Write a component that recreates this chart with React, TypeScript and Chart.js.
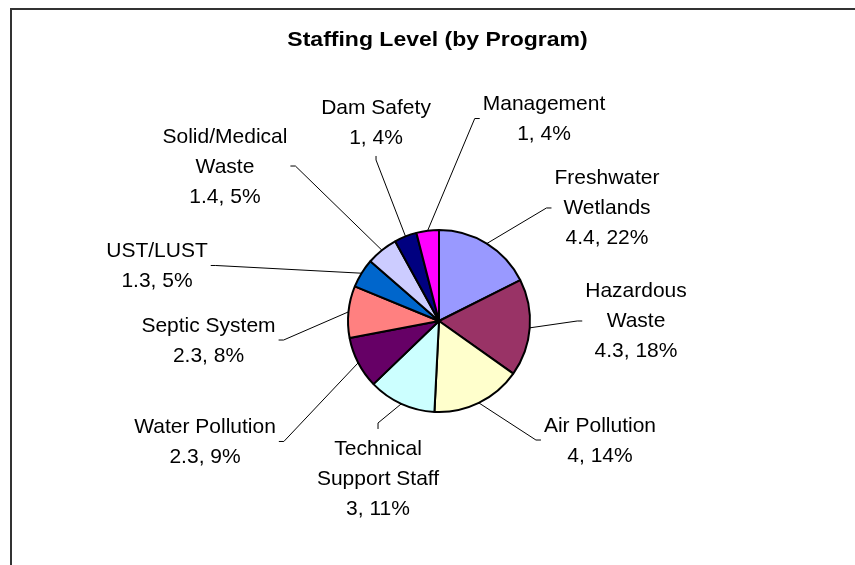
import React, { useEffect, useRef } from 'react';
import { Chart, registerables } from 'chart.js';

Chart.register(...registerables);

// ---------- data ----------
const chartTitle = 'Staffing Level (by Program)';
const categories = [
  'Freshwater Wetlands',
  'Hazardous Waste',
  'Air Pollution',
  'Technical Support Staff',
  'Water Pollution',
  'Septic System',
  'UST/LUST',
  'Solid/Medical Waste',
  'Dam Safety',
  'Management',
];
const staffValues = [4.4, 4.3, 4, 3, 2.3, 2.3, 1.3, 1.4, 1, 1];
const percentLabels = [22, 18, 14, 11, 9, 8, 5, 5, 4, 4];

// ---------- styles / layout ----------
const sliceColors = [
  '#9999FF', '#993366', '#FFFFCC', '#CCFFFF', '#660066',
  '#FF8080', '#0066CC', '#CCCCFF', '#000080', '#FF00FF',
];
// label block centres, in units of the pie radius, relative to the pie centre
const labelOffsets: [number, number][] = [
  [1.846, -1.253],
  [2.165, -0.011],
  [1.769, 1.297],
  [-0.67, 1.725],
  [-2.571, 1.313],
  [-2.533, 0.198],
  [-3.099, -0.621],
  [-2.352, -1.714],
  [-0.692, -2.187],
  [1.154, -2.236],
];
// which edge of the label block the leader line attaches to
const labelSides = ['left', 'left', 'left', 'top', 'right', 'right', 'right', 'right', 'bottom', 'left'];

const LABEL_FONT = '21px "Liberation Sans", Arial, sans-serif';
const TITLE_FONT = 'bold 20px "Liberation Sans", Arial, sans-serif';
const LINE_H = 30;
const WRAP_W = 150;

function wrapText(ctx: CanvasRenderingContext2D, text: string, maxW: number): string[] {
  const words = text.split(' ');
  const out: string[] = [];
  let cur = '';
  for (const w of words) {
    const t = cur ? cur + ' ' + w : w;
    if (cur && ctx.measureText(t).width > maxW) {
      out.push(cur);
      cur = w;
    } else {
      cur = t;
    }
  }
  if (cur) out.push(cur);
  return out;
}

const excelPlugin = {
  id: 'excelPieDecor',
  beforeDraw(chart: any) {
    const ctx: CanvasRenderingContext2D = chart.ctx;
    ctx.save();
    // outer frame
    ctx.strokeStyle = '#333333';
    ctx.lineWidth = 2;
    ctx.strokeRect(11, 9, 853, 570);
    // title
    ctx.fillStyle = '#000';
    ctx.font = TITLE_FONT;
    ctx.textAlign = 'center';
    ctx.textBaseline = 'alphabetic';
    ctx.translate(11 + 853 / 2, 46);
    ctx.scale(1.15, 1);
    ctx.fillText(chartTitle, 0, 0);
    ctx.restore();
  },
  afterDatasetsDraw(chart: any) {
    const ctx: CanvasRenderingContext2D = chart.ctx;
    const meta = chart.getDatasetMeta(0);
    ctx.save();
    ctx.font = LABEL_FONT;
    ctx.fillStyle = '#000';
    ctx.strokeStyle = '#000';
    ctx.lineWidth = 1;
    ctx.textAlign = 'center';
    ctx.textBaseline = 'alphabetic';
    meta.data.forEach((arc: any, i: number) => {
      const p = arc.getProps(['x', 'y', 'startAngle', 'endAngle', 'outerRadius'], true);
      const mid = (p.startAngle + p.endAngle) / 2;
      const r = p.outerRadius;
      const ex = p.x + Math.cos(mid) * r;
      const ey = p.y + Math.sin(mid) * r;
      const lines = wrapText(ctx, categories[i], WRAP_W).concat(`${staffValues[i]}, ${percentLabels[i]}%`);
      const bw = Math.max(...lines.map((l) => ctx.measureText(l).width));
      const bh = lines.length * LINE_H;
      const cx = p.x + labelOffsets[i][0] * r;
      const cy = p.y + labelOffsets[i][1] * r;
      let ax = cx, ay = cy, bx = cx, by = cy;
      const gap = 3, tick = 5;
      switch (labelSides[i]) {
        case 'left':
          ax = cx - bw / 2 - gap; ay = cy + 1; bx = ax - tick; by = ay; break;
        case 'right':
          ax = cx + bw / 2 + gap; ay = cy + 1; bx = ax + tick; by = ay; break;
        case 'top':
          ax = cx; ay = cy - bh / 2 - 4; bx = ax; by = ay - 6; break;
        case 'bottom':
          ax = cx; ay = cy + bh / 2 + 4; bx = ax; by = ay + 4; break;
      }
      ctx.beginPath();
      ctx.moveTo(ex, ey);
      ctx.lineTo(bx, by);
      ctx.lineTo(ax, ay);
      ctx.stroke();
      lines.forEach((l, k) => {
        ctx.fillText(l, cx, cy + (k - (lines.length - 1) / 2) * LINE_H + 7.5);
      });
    });
    ctx.restore();
  },
};

export default function App() {
  const ref = useRef<HTMLCanvasElement | null>(null);
  useEffect(() => {
    if (!ref.current) return;
    const chart = new Chart(ref.current, {
      type: 'pie',
      data: {
        labels: categories,
        datasets: [
          {
            data: staffValues,
            backgroundColor: sliceColors,
            borderColor: '#000000',
            borderWidth: 2,
            radius: 91,
          } as any,
        ],
      },
      options: {
        animation: false,
        responsive: false,
        devicePixelRatio: 1,
        layout: { padding: { left: 123, right: 100, top: 177, bottom: 100 } },
        plugins: {
          legend: { display: false },
          tooltip: { enabled: false },
          title: { display: false },
        },
      } as any,
      plugins: [excelPlugin],
    });
    return () => chart.destroy();
  }, []);
  return (
    <div style={{ position: 'absolute', left: 0, top: 0, width: 855, height: 565, background: '#fff' }}>
      <canvas ref={ref} width={855} height={565} style={{ display: 'block' }} />
    </div>
  );
}
